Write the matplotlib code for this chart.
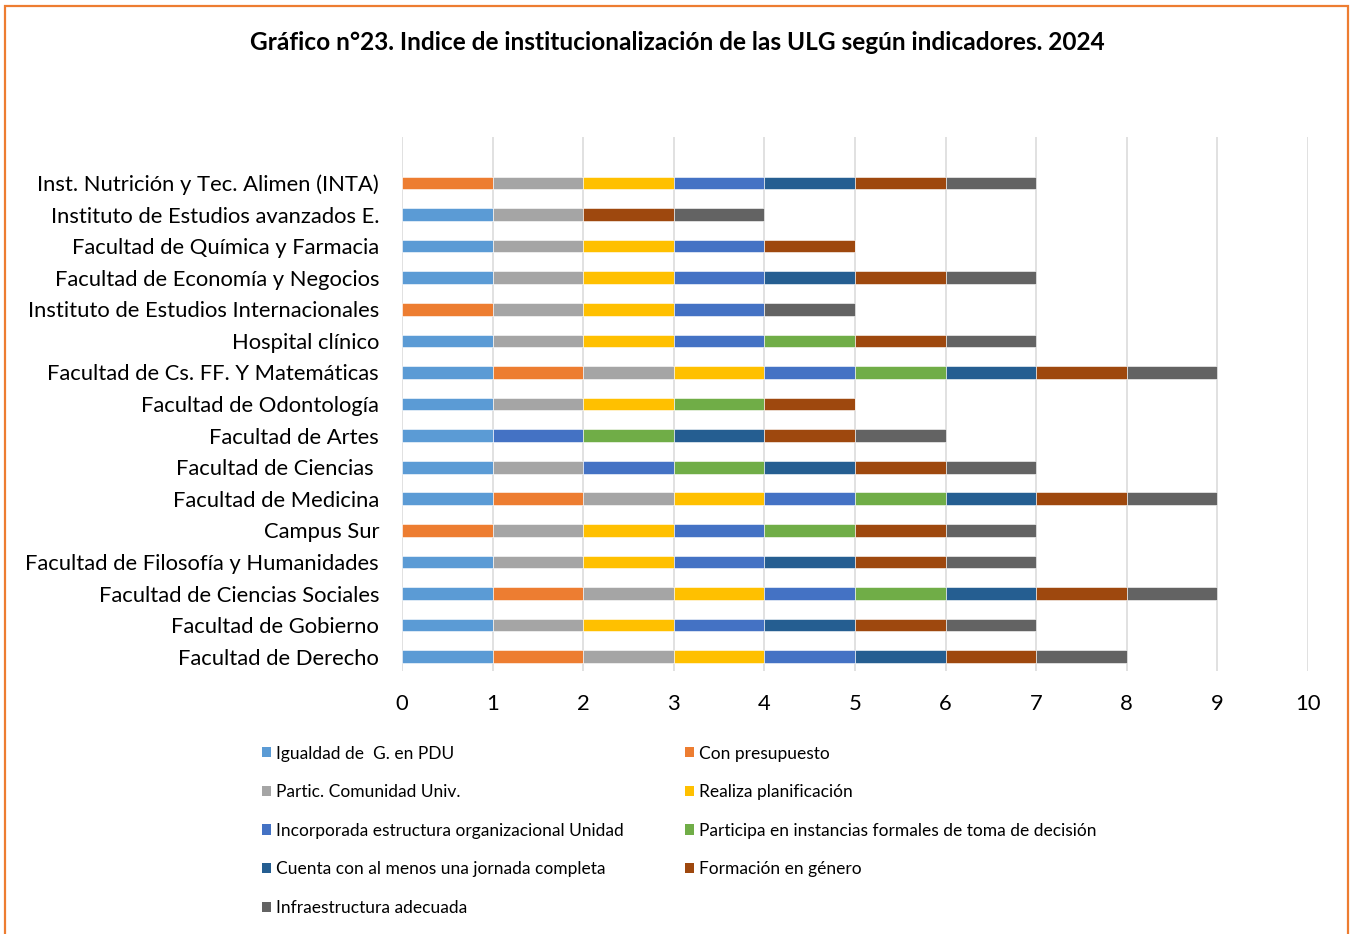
import matplotlib
matplotlib.use("Agg")
import matplotlib.pyplot as plt
from matplotlib.patches import Rectangle, Patch
import numpy as np

plt.rcParams['font.family'] = ['Lato', 'DejaVu Sans']

categories = [
    "Facultad de Derecho",
    "Facultad de Gobierno",
    "Facultad de Ciencias Sociales",
    "Facultad de Filosofía y Humanidades",
    "Campus Sur",
    "Facultad de Medicina",
    "Facultad de Ciencias ",
    "Facultad de Artes",
    "Facultad de Odontología",
    "Facultad de Cs. FF. Y Matemáticas",
    "Hospital clínico",
    "Instituto de Estudios Internacionales",
    "Facultad de Economía y Negocios",
    "Facultad de Química y Farmacia",
    "Instituto de Estudios avanzados E.",
    "Inst. Nutrición y Tec. Alimen (INTA)",
]

series_names = [
    "Igualdad de  G. en PDU",
    "Con presupuesto",
    "Partic. Comunidad Univ.",
    "Realiza planificación",
    "Incorporada estructura organizacional Unidad",
    "Participa en instancias formales de toma de decisión",
    "Cuenta con al menos una jornada completa",
    "Formación en género",
    "Infraestructura adecuada",
]

igualdad      = [1, 1, 1, 1, 0, 1, 1, 1, 1, 1, 1, 0, 1, 1, 1, 0]
presupuesto   = [1, 0, 1, 0, 1, 1, 0, 0, 0, 1, 0, 1, 0, 0, 0, 1]
participacion = [1, 1, 1, 1, 1, 1, 1, 0, 1, 1, 1, 1, 1, 1, 1, 1]
planificacion = [1, 1, 1, 1, 1, 1, 0, 0, 1, 1, 1, 1, 1, 1, 0, 1]
incorporada   = [1, 1, 1, 1, 1, 1, 1, 1, 0, 1, 1, 1, 1, 1, 0, 1]
instancias    = [0, 0, 1, 0, 1, 1, 1, 1, 1, 1, 1, 0, 0, 0, 0, 0]
jornada       = [1, 1, 1, 1, 0, 1, 1, 1, 0, 1, 0, 0, 1, 0, 0, 1]
formacion     = [1, 1, 1, 1, 1, 1, 1, 1, 1, 1, 1, 0, 1, 1, 1, 1]
infra         = [1, 1, 1, 1, 1, 1, 1, 1, 0, 1, 1, 1, 1, 0, 1, 1]

series_values = [igualdad, presupuesto, participacion, planificacion,
                 incorporada, instancias, jornada, formacion, infra]

colors = ["#5B9BD5", "#ED7D31", "#A5A5A5", "#FFC000", "#4472C4",
          "#70AD47", "#255E91", "#9E480E", "#636363"]

x_ticks = list(range(0, 11))

W, H = 1351, 934
fig = plt.figure(figsize=(W / 100, H / 100), dpi=100)
fig.patch.set_facecolor("white")

ax_left, ax_right = 402 / W, 1308 / W
ax_bottom, ax_top = 1 - 670.7 / H, 1 - 137 / H
ax = fig.add_axes([ax_left, ax_bottom, ax_right - ax_left, ax_top - ax_bottom])

y = np.arange(len(categories))
left = np.zeros(len(categories))
for name, vals, col in zip(series_names, series_values, colors):
    v = np.array(vals, dtype=float)
    ax.barh(y, v, left=left, height=0.4, color=col, edgecolor="white",
            linewidth=0.4, label=name, zorder=3)
    left += v

ax.set_xlim(0, 10)
ax.set_ylim(-0.443, 16.457)
ax.set_xticks(x_ticks)
ax.set_xticklabels([str(t) for t in x_ticks])
ax.set_yticks(y)
ax.set_yticklabels(categories)
ax.tick_params(axis="x", length=0, pad=17, labelsize=15.8, labelcolor="black")
ax.tick_params(axis="y", length=0, pad=16.5, labelsize=15.8, labelcolor="black")
for s in ax.spines.values():
    s.set_visible(False)
ax.grid(axis="x", color="#D9D9D9", linewidth=1.1, zorder=0)
ax.set_axisbelow(True)

# Title
fig.text(677 / W, 1 - 43 / H,
         "Gráfico n°23. Indice de institucionalización de las ULG según indicadores. 2024",
         ha="center", va="center", fontsize=17.6, fontweight="bold", color="black")

# Legends (two columns, row-wise order as in the reference)
def make_legend(idx, x_px):
    hs = [Patch(facecolor=colors[i], edgecolor="none") for i in idx]
    ls = [series_names[i] for i in idx]
    return fig.legend(hs, ls, loc="upper left",
                      bbox_to_anchor=(x_px / W, 1 - 745.5 / H),
                      bbox_transform=fig.transFigure,
                      frameon=False, fontsize=12.5, handlelength=0.52,
                      handleheight=0.52, handletextpad=0.3, labelspacing=1.3,
                      borderpad=0, borderaxespad=0)

make_legend([0, 2, 4, 6, 8], 262)
make_legend([1, 3, 5, 7], 685)

# Orange chart border
border = Rectangle((5.5 / W, -0.05), (1348 - 5.5) / W, 0.05 + 1 - 6 / H,
                   transform=fig.transFigure, fill=False,
                   edgecolor="#ED7D31", linewidth=1.6)
fig.add_artist(border)

fig.savefig("out.png", dpi=100)
